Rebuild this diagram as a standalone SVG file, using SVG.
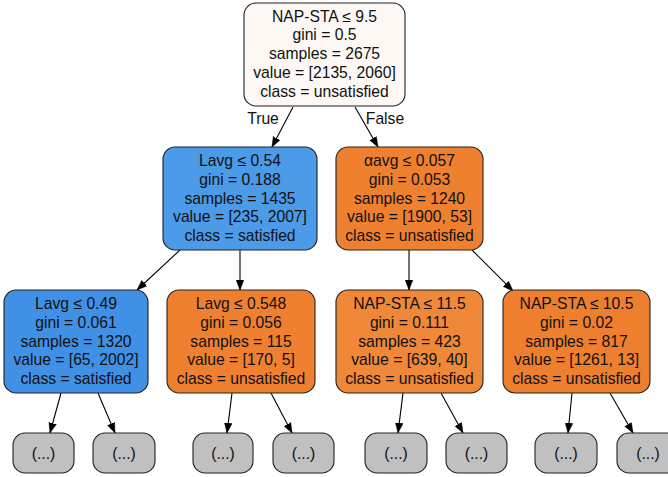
<svg xmlns="http://www.w3.org/2000/svg" width="668" height="477" viewBox="0 0 668 477">
<defs>
<marker id="arr" viewBox="0 0 10 10" refX="10" refY="5" markerWidth="10" markerHeight="10" markerUnits="userSpaceOnUse" orient="auto">
<path d="M0,1.2 L10,5 L0,8.8 Z" fill="#000" stroke="#000" stroke-width="0.5"/>
</marker>
<style>
.n rect{stroke:#222;stroke-width:1.1}
.n text,.lbl{font-family:"Liberation Sans",Arial,sans-serif;font-size:15.7px;fill:#111;text-anchor:middle}
.e line{stroke:#000;stroke-width:1.1;marker-end:url(#arr)}
.leaf rect{fill:#c0c0c0}
</style>
</defs>
<rect width="668" height="477" fill="#fff"/>
<g class="e" id="edges">
<line x1="293" y1="107" x2="272" y2="147"/>
<line x1="355" y1="107" x2="378" y2="147"/>
<line x1="180" y1="250" x2="137" y2="290"/>
<line x1="240" y1="250" x2="240" y2="290"/>
<line x1="409" y1="250" x2="409" y2="290"/>
<line x1="472" y1="250" x2="513" y2="291"/>
<line x1="61" y1="393" x2="50" y2="433"/>
<line x1="98" y1="393" x2="115" y2="433"/>
<line x1="232" y1="393" x2="227" y2="433"/>
<line x1="271" y1="393" x2="292" y2="433"/>
<line x1="403" y1="393" x2="398" y2="433"/>
<line x1="441" y1="393" x2="463" y2="433"/>
<line x1="572" y1="393" x2="568" y2="433"/>
<line x1="610" y1="393" x2="633" y2="433"/>
<text class="lbl" x="263" y="124">True</text>
<text class="lbl" x="385" y="124">False</text>
</g>
<g class="n" id="root">
<rect x="244" y="3" width="161" height="103" rx="12" fill="#fdf8f4"/>
<text x="324.5" y="21.5">NAP-STA ≤ 9.5</text>
<text x="324.5" y="40.2">gini = 0.5</text>
<text x="324.5" y="59">samples = 2675</text>
<text x="324.5" y="77.7">value = [2135, 2060]</text>
<text x="324.5" y="96.5">class = unsatisfied</text>
</g>
<g class="n" id="n1">
<rect x="163" y="147" width="154" height="103" rx="12" fill="#4b9be9"/>
<text x="240" y="166">Lavg ≤ 0.54</text>
<text x="240" y="184.7">gini = 0.188</text>
<text x="240" y="203.5">samples = 1435</text>
<text x="240" y="222.2">value = [235, 2007]</text>
<text x="240" y="241">class = satisfied</text>
</g>
<g class="n" id="n2">
<rect x="336" y="147" width="147" height="103" rx="12" fill="#ee8030"/>
<text x="409.5" y="166">αavg ≤ 0.057</text>
<text x="409.5" y="184.7">gini = 0.053</text>
<text x="409.5" y="203.5">samples = 1240</text>
<text x="409.5" y="222.2">value = [1900, 53]</text>
<text x="409.5" y="241">class = unsatisfied</text>
</g>
<g class="n" id="n3">
<rect x="4" y="290" width="144" height="103" rx="12" fill="#4090e6"/>
<text x="76" y="309">Lavg ≤ 0.49</text>
<text x="76" y="327.7">gini = 0.061</text>
<text x="76" y="346.5">samples = 1320</text>
<text x="76" y="365.2">value = [65, 2002]</text>
<text x="76" y="384">class = satisfied</text>
</g>
<g class="n" id="n4">
<rect x="167" y="290" width="148" height="103" rx="12" fill="#ee8030"/>
<text x="241" y="309">Lavg ≤ 0.548</text>
<text x="241" y="327.7">gini = 0.056</text>
<text x="241" y="346.5">samples = 115</text>
<text x="241" y="365.2">value = [170, 5]</text>
<text x="241" y="384">class = unsatisfied</text>
</g>
<g class="n" id="n5">
<rect x="336" y="290" width="147" height="103" rx="12" fill="#ef8838"/>
<text x="409.5" y="309">NAP-STA ≤ 11.5</text>
<text x="409.5" y="327.7">gini = 0.111</text>
<text x="409.5" y="346.5">samples = 423</text>
<text x="409.5" y="365.2">value = [639, 40]</text>
<text x="409.5" y="384">class = unsatisfied</text>
</g>
<g class="n" id="n6">
<rect x="503" y="290" width="147" height="103" rx="12" fill="#ee7f2f"/>
<text x="576.5" y="309">NAP-STA ≤ 10.5</text>
<text x="576.5" y="327.7">gini = 0.02</text>
<text x="576.5" y="346.5">samples = 817</text>
<text x="576.5" y="365.2">value = [1261, 13]</text>
<text x="576.5" y="384">class = unsatisfied</text>
</g>
<g class="n leaf" id="l1"><rect x="13" y="433" width="61" height="40" rx="12"/><text x="43.5" y="459">(...)</text></g>
<g class="n leaf" id="l2"><rect x="93" y="433" width="62" height="40" rx="12"/><text x="124" y="459">(...)</text></g>
<g class="n leaf" id="l3"><rect x="193" y="433" width="60" height="40" rx="12"/><text x="223" y="459">(...)</text></g>
<g class="n leaf" id="l4"><rect x="273" y="433" width="61" height="40" rx="12"/><text x="303.5" y="459">(...)</text></g>
<g class="n leaf" id="l5"><rect x="365" y="433" width="62" height="40" rx="12"/><text x="396" y="459">(...)</text></g>
<g class="n leaf" id="l6"><rect x="446" y="433" width="61" height="40" rx="12"/><text x="476.5" y="459">(...)</text></g>
<g class="n leaf" id="l7"><rect x="535" y="433" width="62" height="40" rx="12"/><text x="566" y="459">(...)</text></g>
<g class="n leaf" id="l8"><rect x="617" y="433" width="62" height="40" rx="12"/><text x="648" y="459">(...)</text></g>
</svg>
